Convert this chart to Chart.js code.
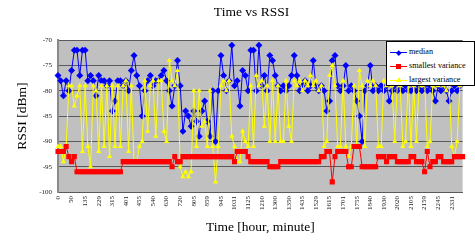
<!DOCTYPE html>
<html>
<head>
<meta charset="utf-8">
<script src="https://cdn.jsdelivr.net/npm/chart.js@4.4.1/dist/chart.umd.min.js"></script>
<style>
  body { margin: 0; background: #fff; overflow: hidden; }
  #wrap { position: relative; width: 475px; height: 240px; }
  #legend { position: absolute; left: 386px; top: 41px; width: 89px; height: 45px;
    box-sizing: border-box; border: 1px solid #000; background: #fff;
    font: 8.2px "Liberation Serif", serif; color: #000; }
  .row { position: absolute; left: 0; height: 10px; width: 100%; }
  .row .ln { position: absolute; left: 3px; width: 17px; top: 5px; height: 1px; }
  .row .mk { position: absolute; }
  .row .tx { position: absolute; left: 22px; top: 0; line-height: 10px; white-space: nowrap; }
</style>
</head>
<body>
<div id="wrap">
  <canvas id="theChart" width="475" height="240"></canvas>
  <div id="legend"></div>
</div>
<script>
// time of day, hhmm, one label every 5 samples
const tickLabels = ["0", "50", "135", "229", "315", "401", "455", "540", "630", "720",
  "805", "859", "945", "1031", "1125", "1210", "1300", "1350", "1435", "1529",
  "1615", "1701", "1755", "1840", "1930", "2020", "2105", "2159", "2245", "2331"];

const median = [
  -77, -78, -81, -78, -80, -76, -72, -72, -77, -72,
  -72, -78, -77, -78, -81, -77, -78, -78, -79, -78,
  -84, -82, -78, -78, -79, -78, -80, -76, -73, -77,
  -79, -85, -80, -78, -77, -79, -78, -78, -77, -76,
  -78, -80, -83, -79, -74, -79, -88, -84, -85, -87,
  -84, -86, -89, -84, -82, -86, -89, -80, -90, -80,
  -73, -77, -80, -78, -71, -79, -78, -83, -76, -77,
  -80, -72, -72, -80, -71, -79, -77, -80, -73, -74,
  -77, -79, -80, -79, -80, -79, -77, -73, -77, -80,
  -79, -78, -80, -79, -74, -79, -80, -79, -80, -84,
  -82, -74, -73, -79, -80, -79, -75, -80, -79, -80,
  -82, -85, -90, -80, -79, -75, -80, -79, -80, -79,
  -80, -79, -82, -80, -79, -80, -79, -80, -79, -80,
  -80, -79, -80, -79, -80, -79, -80, -79, -80, -82,
  -79, -80, -79, -80, -82, -80, -79, -80, -79, -78];

const smallestVariance = [
  -92, -92, -92, -91, -93, -94, -93, -96, -96, -96,
  -96, -96, -96, -96, -96, -96, -96, -96, -96, -96,
  -96, -96, -96, -96, -94, -94, -94, -94, -94, -94,
  -94, -94, -94, -94, -94, -94, -94, -94, -94, -94,
  -94, -94, -95, -93, -94, -94, -93, -93, -93, -93,
  -93, -93, -93, -93, -93, -93, -93, -93, -93, -93,
  -93, -93, -93, -93, -93, -94, -92, -92, -92, -92,
  -93, -94, -94, -94, -94, -94, -94, -94, -95, -95,
  -95, -95, -94, -94, -94, -94, -94, -94, -94, -94,
  -94, -94, -94, -94, -94, -94, -94, -93, -93, -92,
  -92, -98, -93, -92, -92, -92, -92, -95, -95, -91,
  -91, -91, -95, -95, -95, -95, -95, -95, -93, -93,
  -93, -94, -93, -93, -93, -94, -94, -94, -94, -94,
  -93, -93, -94, -94, -94, -96, -92, -95, -94, -94,
  -93, -93, -94, -94, -94, -94, -93, -93, -93, -93];

const largestVariance = [
  -91, -91, -94, -91, -79, -79, -83, -81, -79, -92,
  -79, -91, -95, -79, -80, -92, -79, -91, -79, -93,
  -79, -91, -79, -91, -79, -78, -92, -79, -94, -94,
  -91, -90, -78, -88, -79, -78, -89, -78, -78, -88,
  -90, -74, -78, -79, -76, -95, -97, -96, -97, -96,
  -80, -91, -80, -87, -86, -91, -80, -91, -98, -91,
  -79, -78, -80, -78, -89, -91, -94, -94, -88, -90,
  -91, -79, -91, -77, -79, -78, -87, -79, -90, -78,
  -90, -79, -90, -90, -78, -87, -90, -78, -79, -78,
  -80, -78, -79, -77, -79, -78, -80, -79, -91, -90,
  -77, -75, -79, -91, -91, -78, -91, -93, -91, -79,
  -91, -76, -79, -91, -78, -79, -78, -79, -91, -91,
  -78, -79, -78, -79, -90, -78, -79, -91, -90, -78,
  -91, -79, -90, -78, -79, -78, -91, -90, -79, -78,
  -79, -78, -79, -80, -78, -91, -93, -90, -79, -78];

const SERIES_COLORS = { blue: "#0000ff", red: "#ff0000", yellow: "#ffff00" };
const SERIF = "'Liberation Serif', 'Times New Roman', serif";

const labels = median.map((v, i) => (i % 5 === 0 ? tickLabels[i / 5] : ""));

// grey plot background like the old spreadsheet chart
const plotBackground = {
  id: "plotBackground",
  beforeDraw(chart) {
    const { ctx, chartArea } = chart;
    ctx.save();
    ctx.fillStyle = "#c0c0c0";
    ctx.fillRect(chartArea.left, chartArea.top, chartArea.right - chartArea.left, chartArea.bottom - chartArea.top);
    ctx.restore();
  },
};

const data = {
  labels: labels,
  datasets: [
    {
      label: "median",
      data: median,
      borderColor: SERIES_COLORS.blue,
      backgroundColor: SERIES_COLORS.blue,
      borderWidth: 1,
      pointStyle: "rectRot",
      pointRadius: 3.5,
      pointBorderWidth: 0,
      tension: 0,
      order: 3,
    },
    {
      label: "smallest variance",
      data: smallestVariance,
      borderColor: SERIES_COLORS.red,
      backgroundColor: SERIES_COLORS.red,
      borderWidth: 1,
      pointStyle: "rect",
      pointRadius: 3.6,
      pointBorderWidth: 0,
      tension: 0,
      order: 1,
    },
    {
      label: "largest variance",
      data: largestVariance,
      borderColor: SERIES_COLORS.yellow,
      backgroundColor: SERIES_COLORS.yellow,
      borderWidth: 1,
      pointStyle: "triangle",
      pointRadius: 3,
      pointBorderWidth: 0,
      tension: 0,
      order: 2,
    },
  ],
};

const config = {
  type: "line",
  data: data,
  plugins: [plotBackground],
  options: {
    responsive: false,
    animation: false,
    devicePixelRatio: 1,
    layout: { padding: { left: 28, right: 0, top: 0, bottom: 0 } },
    plugins: {
      legend: { display: false },
      tooltip: { enabled: false },
      title: {
        display: true,
        text: "Time vs RSSI",
        color: "#000",
        font: { family: SERIF, size: 13.5, weight: "normal" },
        padding: { top: 4, bottom: 20 },
      },
    },
    scales: {
      x: {
        type: "category",
        offset: false,
        grid: { display: false, drawTicks: false },
        border: { display: true, color: "#5a5a5a" },
        ticks: {
          autoSkip: false,
          minRotation: 90,
          maxRotation: 90,
          padding: 4,
          color: "#222",
          font: { family: SERIF, size: 7 },
        },
        title: {
          display: true,
          text: "Time [hour, minute]",
          color: "#000",
          font: { family: SERIF, size: 13.5 },
          padding: { top: 0, bottom: 4 },
        },
        afterFit(scale) { scale.height = 48; },
      },
      y: {
        min: -100,
        max: -70,
        grid: { color: "#5a5a5a", lineWidth: 1, drawTicks: false },
        border: { display: true, color: "#8a8a8a", width: 2 },
        ticks: {
          stepSize: 5,
          padding: 6,
          color: "#222",
          font: { family: SERIF, size: 7 },
        },
        title: {
          display: true,
          text: "RSSI [dBm]",
          color: "#000",
          font: { family: SERIF, size: 13.5 },
          padding: { top: -14, bottom: 0 },
        },
        afterFit(scale) { scale.width = 30; },
      },
    },
  },
};

const theChart = new Chart(document.getElementById("theChart"), config);

// legend box sits inside the plot, top right
function buildLegend() {
  const box = document.getElementById("legend");
  const tops = [5, 19, 33];
  theChart.data.datasets.forEach((ds, i) => {
    const row = document.createElement("div");
    row.className = "row";
    row.style.top = tops[i] + "px";
    const ln = document.createElement("div");
    ln.className = "ln";
    ln.style.background = ds.borderColor;
    const mk = document.createElement("div");
    mk.className = "mk";
    if (ds.pointStyle === "rectRot") {
      Object.assign(mk.style, { left: "9.5px", top: "3.5px", width: "3.5px", height: "3.5px", background: ds.backgroundColor, transform: "rotate(45deg)" });
    } else if (ds.pointStyle === "rect") {
      Object.assign(mk.style, { left: "9px", top: "3px", width: "5px", height: "5px", background: ds.backgroundColor });
    } else {
      Object.assign(mk.style, { left: "8.5px", top: "2px", width: "0", height: "0", borderLeft: "3px solid transparent", borderRight: "3px solid transparent", borderBottom: "5px solid " + ds.backgroundColor });
    }
    const tx = document.createElement("div");
    tx.className = "tx";
    tx.textContent = ds.label;
    row.appendChild(ln);
    row.appendChild(mk);
    row.appendChild(tx);
    box.appendChild(row);
  });
}
buildLegend();
</script>
</body>
</html>
